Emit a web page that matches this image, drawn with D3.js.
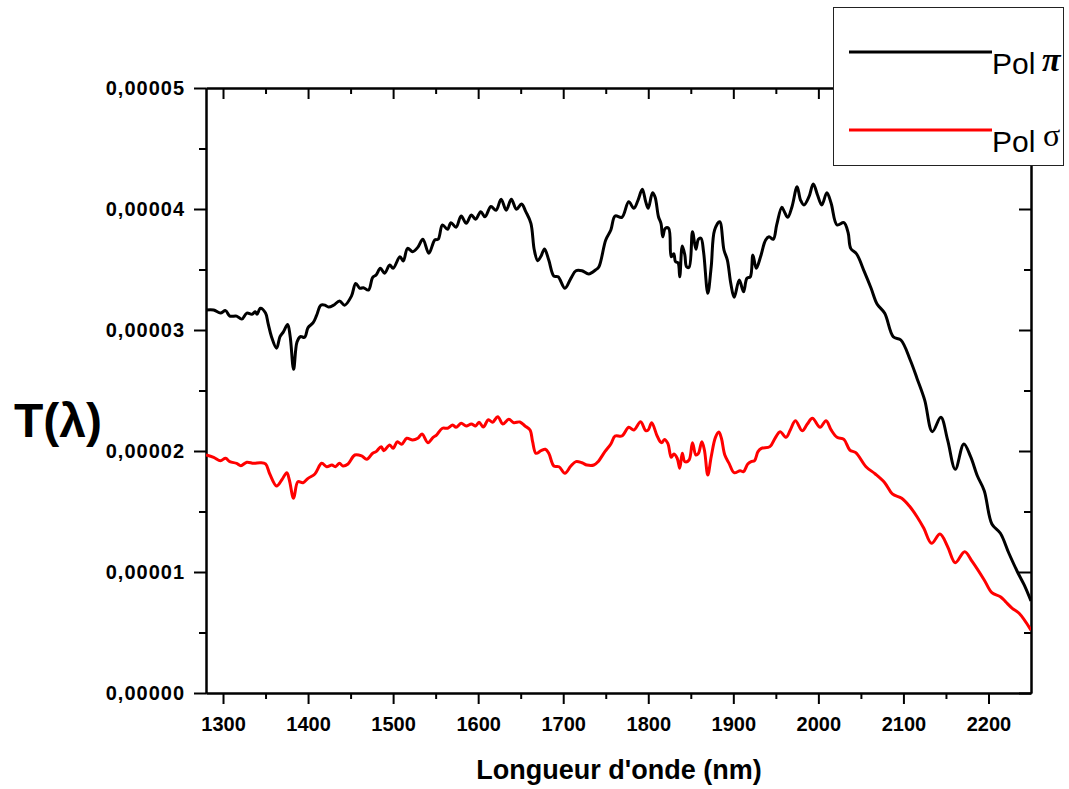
<!DOCTYPE html>
<html>
<head>
<meta charset="utf-8">
<script src="https://cdn.jsdelivr.net/npm/d3@7"></script>
<style>
  body { margin: 0; background: #fff; }
  svg { font-family: "Liberation Sans", Arial, sans-serif; }
</style>
</head>
<body>
<svg width="1069" height="789"></svg>
<script>
// values are read in units of 1e-5
const UNIT = 1e-5;

const piWl = [1280,1289,1297,1303,1308,1316,1322,1328,1334,1338,1340,1344,1350,1353,1357,1363,1367,1371,1376,1379,1383,1387,1391,1396,1400,1406,1410,1415,1420,1424,1430,1437,1443,1451,1456,1461,1465,1471,1476,1480,1485,1490,1496,1500,1508,1512,1517,1523,1529,1535,1542,1549,1553,1558,1564,1568,1574,1580,1586,1592,1597,1603,1608,1615,1621,1627,1633,1639,1645,1651,1656,1662,1666,1670,1674,1678,1683,1689,1694,1702,1709,1715,1722,1730,1738,1742,1750,1756,1761,1769,1777,1783,1788,1793,1797,1800,1805,1808,1812,1815,1817,1820,1824,1827,1830,1832,1835,1837,1840,1843,1845,1848,1852,1856,1859,1862,1865,1870,1874,1878,1884,1889,1893,1897,1901,1907,1912,1916,1920,1923,1927,1932,1938,1942,1947,1951,1957,1960,1964,1969,1975,1979,1983,1989,1994,1999,2004,2010,2015,2022,2030,2035,2038,2045,2054,2062,2069,2078,2088,2097,2108,2116,2125,2134,2144,2152,2161,2171,2179,2187,2195,2204,2214,2224,2234,2242,2250];
const piVal = [3.165,3.165,3.14,3.16,3.115,3.115,3.09,3.14,3.13,3.15,3.13,3.18,3.14,3.055,2.945,2.85,2.945,2.985,3.045,2.945,2.675,2.90,2.945,2.94,3.02,3.06,3.12,3.205,3.205,3.19,3.205,3.24,3.205,3.28,3.385,3.345,3.35,3.33,3.435,3.455,3.51,3.47,3.537,3.51,3.605,3.57,3.675,3.647,3.683,3.75,3.634,3.744,3.75,3.868,3.832,3.887,3.849,3.942,3.882,3.95,3.915,3.978,3.936,4.02,3.99,4.08,3.99,4.08,3.997,4.041,3.978,3.882,3.661,3.573,3.612,3.67,3.578,3.446,3.44,3.345,3.427,3.49,3.49,3.463,3.496,3.523,3.744,3.826,3.942,3.931,4.06,4.006,4.074,4.163,4.06,4.006,4.135,4.10,3.936,3.88,3.77,3.84,3.84,3.605,3.63,3.565,3.556,3.44,3.694,3.62,3.523,3.518,3.812,3.667,3.75,3.758,3.647,3.303,3.523,3.826,3.895,3.661,3.578,3.386,3.27,3.413,3.316,3.427,3.44,3.62,3.51,3.605,3.744,3.771,3.75,3.868,4.014,3.978,3.931,4.019,4.184,4.074,4.033,4.102,4.207,4.116,4.033,4.135,4.047,3.868,3.887,3.804,3.675,3.628,3.482,3.345,3.215,3.138,2.945,2.917,2.752,2.60,2.421,2.16,2.278,2.09,1.849,2.058,1.953,1.793,1.672,1.397,1.32,1.155,1.002,0.893,0.76];

const sigmaWl = [1280,1289,1297,1303,1308,1316,1321,1328,1336,1344,1350,1355,1363,1369,1375,1378,1383,1388,1394,1400,1408,1416,1422,1428,1432,1437,1441,1447,1455,1463,1469,1476,1480,1486,1489,1496,1500,1505,1510,1516,1523,1529,1534,1541,1547,1551,1558,1564,1570,1574,1580,1586,1592,1597,1601,1606,1612,1617,1623,1629,1636,1642,1649,1655,1661,1664,1668,1674,1679,1683,1689,1695,1702,1709,1715,1722,1728,1736,1741,1749,1756,1761,1769,1777,1783,1791,1797,1800,1804,1810,1814,1816,1819,1823,1827,1830,1834,1837,1840,1843,1848,1852,1856,1859,1863,1866,1870,1874,1879,1883,1886,1890,1895,1901,1908,1912,1917,1921,1925,1929,1933,1943,1949,1955,1962,1967,1973,1981,1987,1993,2002,2009,2015,2022,2030,2037,2044,2056,2067,2078,2087,2098,2107,2116,2124,2133,2143,2152,2161,2172,2181,2195,2204,2214,2220,2228,2236,2250];
const sigmaVal = [1.967,1.948,1.92,1.94,1.912,1.898,1.879,1.907,1.898,1.903,1.893,1.81,1.711,1.76,1.821,1.76,1.609,1.746,1.738,1.774,1.81,1.898,1.87,1.884,1.87,1.898,1.876,1.893,1.967,1.959,1.931,1.981,1.995,2.036,2.003,2.05,2.022,2.077,2.055,2.105,2.091,2.105,2.14,2.069,2.113,2.132,2.188,2.188,2.215,2.196,2.229,2.207,2.223,2.207,2.238,2.198,2.258,2.238,2.284,2.223,2.262,2.234,2.24,2.207,2.174,2.077,1.981,2.003,2.014,1.981,1.876,1.87,1.816,1.876,1.912,1.903,1.884,1.884,1.912,1.995,2.058,2.124,2.124,2.196,2.174,2.242,2.168,2.174,2.234,2.132,2.077,2.069,2.096,2.063,1.948,1.975,1.94,1.857,1.981,1.912,1.926,2.069,1.967,1.981,2.077,2.008,1.802,1.953,2.113,2.157,2.105,1.967,1.898,1.821,1.837,1.829,1.893,1.912,1.92,1.995,2.022,2.036,2.105,2.16,2.113,2.174,2.25,2.168,2.223,2.27,2.196,2.25,2.174,2.113,2.096,2.008,1.986,1.87,1.81,1.738,1.645,1.609,1.545,1.457,1.361,1.237,1.314,1.209,1.077,1.168,1.085,0.934,0.829,0.796,0.755,0.70,0.659,0.52];

const xTicks = [1300,1400,1500,1600,1700,1800,1900,2000,2100,2200];
const yTicks = [0,1,2,3,4,5];

const svg = d3.select("svg");
const plotLeft = 206, plotRight = 1031, plotTop = 88, plotBottom = 693;

const x = d3.scaleLinear().domain([1280, 2250]).range([plotLeft, plotRight]);
const y = d3.scaleLinear().domain([0, 5 * UNIT]).range([plotBottom, plotTop]);

const fmt = v => d3.format(".5f")(v).replace(".", ",");

// minor ticks
const xMinor = d3.range(1300, 2250, 50).filter(v => v % 100 !== 0);
const yMinor = [0.5,1.5,2.5,3.5,4.5].map(v => v * UNIT);

function styleAxis(g) {
  g.select(".domain").attr("stroke", "#000").attr("stroke-width", 2);
  g.selectAll(".tick line").attr("stroke", "#000").attr("stroke-width", 2);
}

// bottom
svg.append("g").attr("transform", `translate(0,${plotBottom})`)
  .call(d3.axisBottom(x).tickValues(xMinor).tickSize(6).tickFormat("").tickSizeOuter(0))
  .call(styleAxis);
const xg = svg.append("g").attr("transform", `translate(0,${plotBottom})`)
  .call(d3.axisBottom(x).tickValues(xTicks).tickSize(11).tickPadding(13)
    .tickFormat(d3.format("d")).tickSizeOuter(0))
  .call(styleAxis);
xg.selectAll("text").attr("font-size", 20).attr("font-weight", "bold")
  .attr("font-family", "Liberation Sans, Arial, sans-serif").attr("fill", "#000");

// top
svg.append("g").attr("transform", `translate(0,${plotTop})`)
  .call(d3.axisTop(x).tickValues(xMinor).tickSize(-6).tickFormat("").tickSizeOuter(0))
  .call(styleAxis);
svg.append("g").attr("transform", `translate(0,${plotTop})`)
  .call(d3.axisTop(x).tickValues(xTicks).tickSize(-11).tickFormat("").tickSizeOuter(0))
  .call(styleAxis);

// left
svg.append("g").attr("transform", `translate(${plotLeft},0)`)
  .call(d3.axisLeft(y).tickValues(yMinor).tickSize(7).tickFormat("").tickSizeOuter(0))
  .call(styleAxis);
const yg = svg.append("g").attr("transform", `translate(${plotLeft},0)`)
  .call(d3.axisLeft(y).tickValues(yTicks.map(v => v * UNIT)).tickSize(12).tickPadding(9)
    .tickFormat(fmt).tickSizeOuter(0))
  .call(styleAxis);
yg.selectAll("text").attr("font-size", 20).attr("font-weight", "bold")
  .attr("letter-spacing", "1px")
  .attr("font-family", "Liberation Sans, Arial, sans-serif").attr("fill", "#000");

// right
svg.append("g").attr("transform", `translate(${plotRight},0)`)
  .call(d3.axisRight(y).tickValues(yMinor).tickSize(-7).tickFormat("").tickSizeOuter(0))
  .call(styleAxis);
svg.append("g").attr("transform", `translate(${plotRight},0)`)
  .call(d3.axisRight(y).tickValues(yTicks.map(v => v * UNIT)).tickSize(-12).tickFormat("").tickSizeOuter(0))
  .call(styleAxis);

// clip
svg.append("clipPath").attr("id", "clip")
  .append("rect").attr("x", plotLeft).attr("y", plotTop)
  .attr("width", plotRight - plotLeft).attr("height", plotBottom - plotTop);

const line = d3.line()
  .x(d => x(d[0]))
  .y(d => y(d[1] * UNIT))
  .curve(d3.curveCatmullRom.alpha(0.5));

const plot = svg.append("g").attr("clip-path", "url(#clip)");
plot.append("path")
  .datum(d3.zip(sigmaWl, sigmaVal))
  .attr("d", line).attr("fill", "none").attr("stroke", "#ff0000").attr("stroke-width", 3)
  .attr("stroke-linejoin", "round");
plot.append("path")
  .datum(d3.zip(piWl, piVal))
  .attr("d", line).attr("fill", "none").attr("stroke", "#000").attr("stroke-width", 3)
  .attr("stroke-linejoin", "round");

// axis titles
svg.append("text").attr("x", 619).attr("y", 779).attr("text-anchor", "middle")
  .attr("font-size", 27).attr("font-weight", "bold").text("Longueur d'onde (nm)");
svg.append("text").attr("x", 58).attr("y", 437).attr("text-anchor", "middle")
  .attr("font-size", 48).attr("font-weight", "bold").text("T(λ)");

// legend
const leg = svg.append("g");
leg.append("rect").attr("x", 833.5).attr("y", 7.5).attr("width", 230).attr("height", 158)
  .attr("fill", "#fff").attr("stroke", "#222").attr("stroke-width", 1);
leg.append("line").attr("x1", 849).attr("x2", 992).attr("y1", 52).attr("y2", 52)
  .attr("stroke", "#000").attr("stroke-width", 3);
leg.append("line").attr("x1", 849).attr("x2", 992).attr("y1", 130).attr("y2", 130)
  .attr("stroke", "#ff0000").attr("stroke-width", 3);
leg.append("text").attr("x", 992).attr("y", 74).attr("font-size", 30).text("Pol");
leg.append("text").attr("x", 1042).attr("y", 71).attr("font-size", 34).attr("font-weight", "bold")
  .attr("font-style", "italic").attr("font-family", "Liberation Serif, serif").text("π");
leg.append("text").attr("x", 1043).attr("y", 146).attr("font-size", 32)
  .attr("font-family", "Liberation Serif, serif").text("σ");
leg.append("text").attr("x", 992).attr("y", 152).attr("font-size", 30).text("Pol");
</script>
</body>
</html>
